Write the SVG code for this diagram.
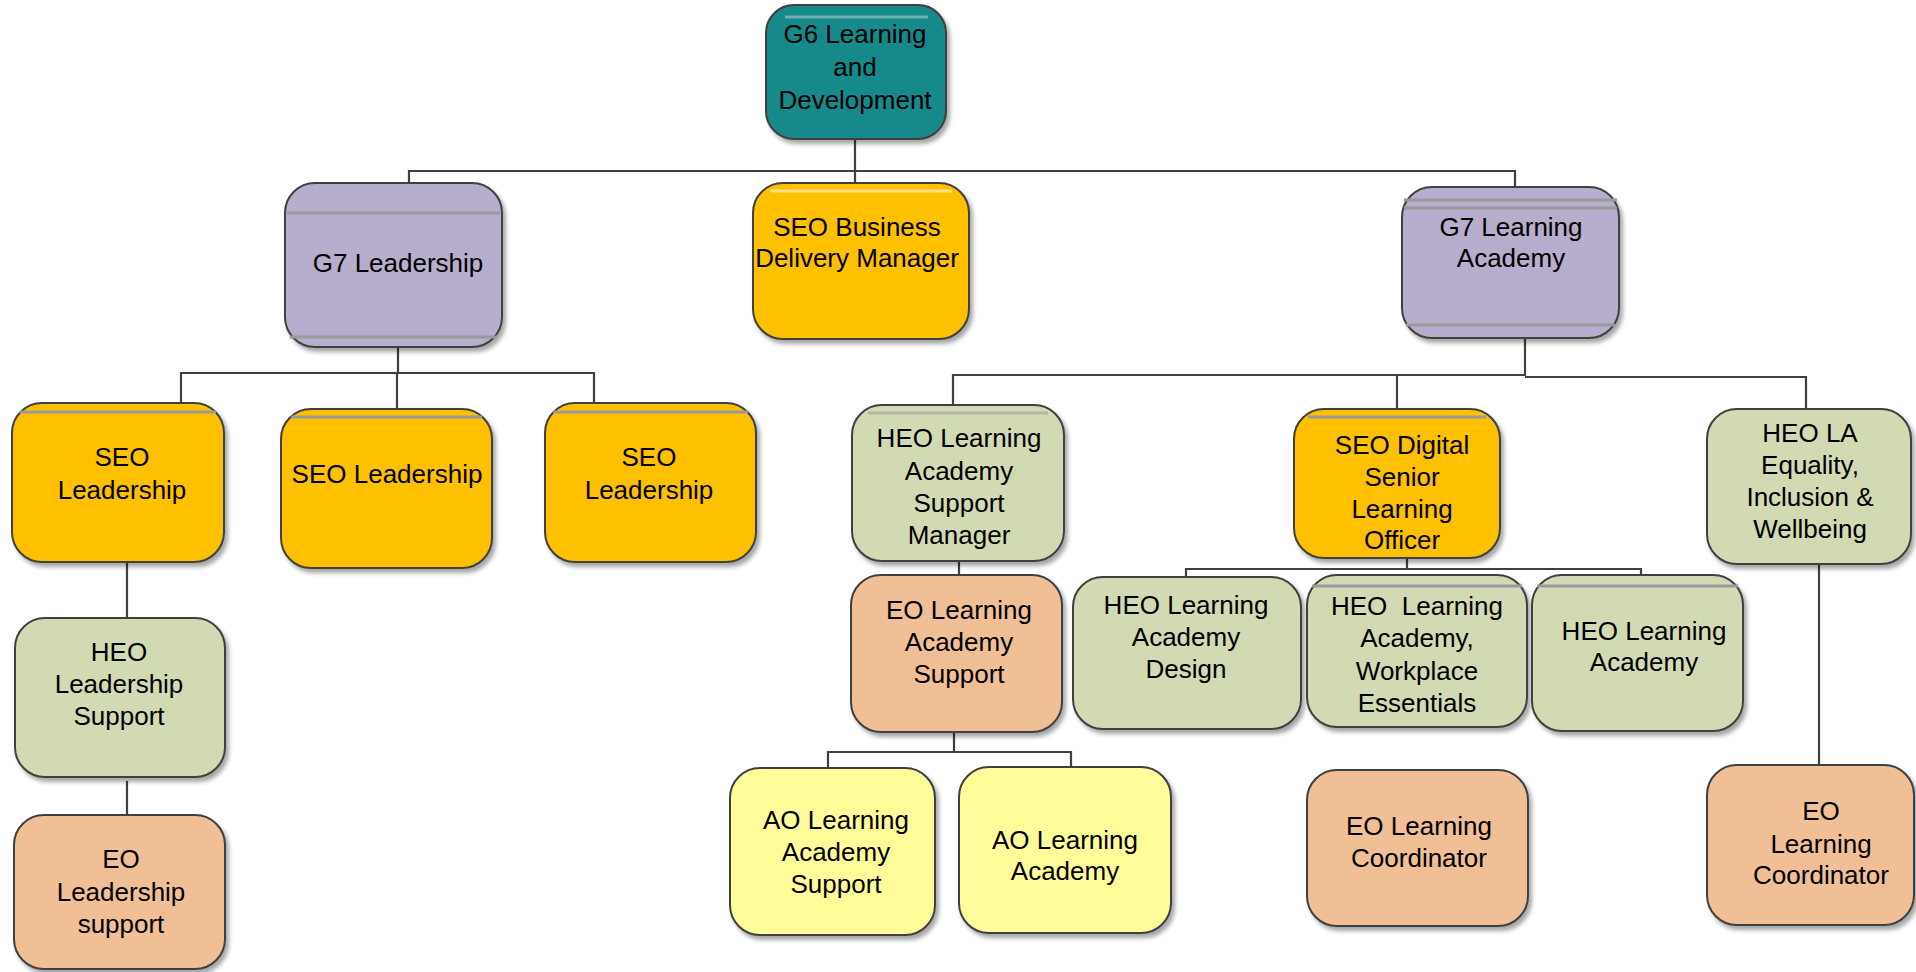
<svg xmlns="http://www.w3.org/2000/svg" width="1916" height="972" viewBox="0 0 1916 972">
<defs>
<filter id="sh" x="-10%" y="-10%" width="130%" height="130%">
<feDropShadow dx="3" dy="4" stdDeviation="2" flood-color="#000" flood-opacity="0.35"/>
</filter>
</defs>
<style>
.b{stroke:#3f3f3f;stroke-width:2;filter:url(#sh)}
.teal{fill:#12898a}.pur{fill:#b7adcc}.org{fill:#ffc000}.grn{fill:#d2dab4}.pch{fill:#f1bf96}.yel{fill:#fffc9a}
.st{stroke:#9a9a9a;stroke-width:3;fill:none}
.c{stroke:#404040;stroke-width:2.2;fill:none}
text{font-family:"Liberation Sans",Arial,sans-serif;font-size:26px;fill:#000;text-anchor:middle}
</style>
<rect width="1916" height="972" fill="#fff"/>
<g id="connectors">
<path class="c" d="M855 139V183M409 187V171H1515V187"/>
<path class="c" d="M398 347V373M181 403V373H594V403M397 373V409"/>
<path class="c" d="M1525 338V375H953V405M1525 377H1806V409M1397 375V409"/>
<path class="c" d="M127 562V618M127 781V815"/>
<path class="c" d="M959 561V575M954 732V752M828 768V752H1071V768"/>
<path class="c" d="M1407 558V569M1186 577V569H1641V575"/>
<path class="c" d="M1819 564V765"/>
</g>
<g id="g6">
<rect class="b teal" x="766" y="5" width="180" height="134" rx="28"/>
<path class="st" d="M785 17H928" style="stroke:#6fb0b0"/>
<text x="855" y="43">G6 Learning</text><text x="855" y="76">and</text><text x="855" y="109">Development</text>
</g>
<g id="g7-leadership">
<rect class="b pur" x="285" y="183" width="217" height="164" rx="30"/>
<path class="st" d="M287 213H500M290 337H497"/>
<text x="398" y="272">G7 Leadership</text>
</g>
<g id="seo-bdm">
<rect class="b org" x="753" y="183" width="216" height="156" rx="30"/>
<path class="st" d="M770 191H952" style="stroke:#ffe080"/>
<text x="857" y="236">SEO Business</text><text x="857" y="267">Delivery Manager</text>
</g>
<g id="g7-la">
<rect class="b pur" x="1402" y="187" width="217" height="151" rx="30"/>
<path class="st" d="M1404 200H1617M1404 208H1617M1406 325H1615"/>
<text x="1511" y="236">G7 Learning</text><text x="1511" y="267">Academy</text>
</g>
<g id="seo-l1">
<rect class="b org" x="12" y="403" width="212" height="159" rx="30"/>
<path class="st" d="M20 412H216"/>
<text x="122" y="466">SEO</text><text x="122" y="499">Leadership</text>
</g>
<g id="seo-l2">
<rect class="b org" x="281" y="409" width="211" height="159" rx="30"/>
<path class="st" d="M291 417H482"/>
<text x="387" y="483">SEO Leadership</text>
</g>
<g id="seo-l3">
<rect class="b org" x="545" y="403" width="211" height="159" rx="30"/>
<path class="st" d="M553 412H748"/>
<text x="649" y="466">SEO</text><text x="649" y="499">Leadership</text>
</g>
<g id="heo-ls">
<rect class="b grn" x="15" y="618" width="210" height="159" rx="30"/>
<text x="119" y="661">HEO</text><text x="119" y="693">Leadership</text><text x="119" y="725">Support</text>
</g>
<g id="eo-ls">
<rect class="b pch" x="14" y="815" width="211" height="154" rx="30"/>
<text x="121" y="868">EO</text><text x="121" y="901">Leadership</text><text x="121" y="933">support</text>
</g>
<g id="heo-lasm">
<rect class="b grn" x="852" y="405" width="212" height="156" rx="30"/>
<path class="st" d="M868 413H1048" style="stroke:#b0b8a0"/>
<text x="959" y="447">HEO Learning</text><text x="959" y="480">Academy</text><text x="959" y="512">Support</text><text x="959" y="544">Manager</text>
</g>
<g id="eo-las">
<rect class="b pch" x="851" y="575" width="211" height="157" rx="30"/>
<text x="959" y="619">EO Learning</text><text x="959" y="651">Academy</text><text x="959" y="683">Support</text>
</g>
<g id="ao-las">
<rect class="b yel" x="730" y="768" width="205" height="167" rx="30"/>
<text x="836" y="829">AO Learning</text><text x="836" y="861">Academy</text><text x="836" y="893">Support</text>
</g>
<g id="ao-la">
<rect class="b yel" x="959" y="767" width="212" height="166" rx="30"/>
<text x="1065" y="849">AO Learning</text><text x="1065" y="880">Academy</text>
</g>
<g id="seo-dslo">
<rect class="b org" x="1294" y="409" width="206" height="149" rx="30"/>
<path class="st" d="M1308 417H1486"/>
<text x="1402" y="454">SEO Digital</text><text x="1402" y="486">Senior</text><text x="1402" y="518">Learning</text><text x="1402" y="549">Officer</text>
</g>
<g id="heo-lad">
<rect class="b grn" x="1073" y="577" width="228" height="152" rx="30"/>
<text x="1186" y="614">HEO Learning</text><text x="1186" y="646">Academy</text><text x="1186" y="678">Design</text>
</g>
<g id="heo-lawe">
<rect class="b grn" x="1307" y="575" width="220" height="152" rx="30"/>
<path class="st" d="M1312 586H1522"/>
<text x="1417" y="615" xml:space="preserve">HEO  Learning</text><text x="1417" y="647">Academy,</text><text x="1417" y="680">Workplace</text><text x="1417" y="712">Essentials</text>
</g>
<g id="heo-la">
<rect class="b grn" x="1532" y="575" width="211" height="156" rx="30"/>
<path class="st" d="M1537 586H1738"/>
<text x="1644" y="640">HEO Learning</text><text x="1644" y="671">Academy</text>
</g>
<g id="heo-la-eiw">
<rect class="b grn" x="1707" y="409" width="204" height="155" rx="30"/>
<text x="1810" y="442">HEO LA</text><text x="1810" y="474">Equality,</text><text x="1810" y="506">Inclusion &amp;</text><text x="1810" y="538">Wellbeing</text>
</g>
<g id="eo-lc1">
<rect class="b pch" x="1307" y="770" width="221" height="156" rx="30"/>
<text x="1419" y="835">EO Learning</text><text x="1419" y="867">Coordinator</text>
</g>
<g id="eo-lc2">
<rect class="b pch" x="1707" y="765" width="207" height="160" rx="30"/>
<text x="1821" y="820">EO</text><text x="1821" y="853">Learning</text><text x="1821" y="884">Coordinator</text>
</g>
</svg>
